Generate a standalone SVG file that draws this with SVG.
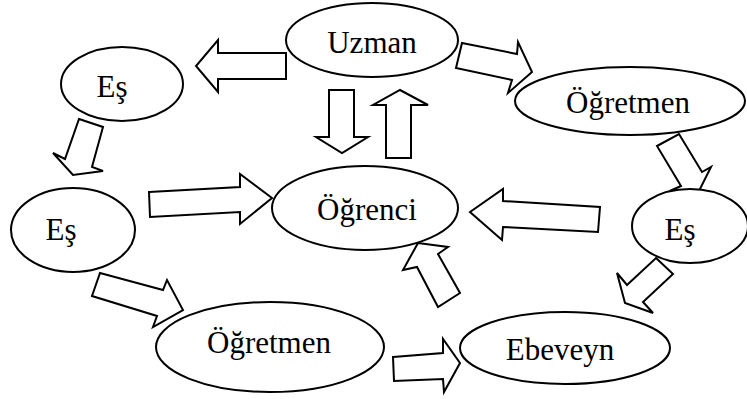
<svg xmlns="http://www.w3.org/2000/svg" width="747" height="399" viewBox="0 0 747 399">
<style>
.n ellipse{fill:#fff;stroke:#000;stroke-width:2}
.n text{font-family:'Liberation Serif','Times New Roman',serif;font-size:31px;fill:#000;text-anchor:middle}
#connectors polygon{fill:#fff;stroke:#000;stroke-width:2;stroke-linejoin:miter}
</style>
<rect width="747" height="399" fill="#fff"/>
<g id="connectors">
<polygon points="286,53 218,53 218,40 196,66 218,92 218,79 286,79"/>
<polygon points="329,90 354,90 354,137 368,137 342,153 316,137 329,137"/>
<polygon points="400,90 428,105 411,105 411,158 386,158 386,105 373,105"/>
<polygon points="462,43 517,54 518,42 532,72 508,93 512,80 456,68"/>
<polygon points="149,192 240,187 240,174 272,198 240,224 240,212 150,217"/>
<polygon points="470,212 503,189 503,201 600,207 598,232 503,227 502,240"/>
<polygon points="79,119 103,127 92,167 103,171 73,175 53,153 65,159"/>
<polygon points="657,146 679,134 702,172 711,167 698,193 672,190 681,186"/>
<polygon points="656,258 673,274 643,302 653,313 625,303 617,273 627,285"/>
<polygon points="100,273 163,290 167,280 183,310 153,327 157,316 92,296"/>
<polygon points="393,357 443,353 443,339 460,363 444,392 443,379 394,381"/>
<polygon points="418,243 448,247 438,254 460,293 438,307 417,267 403,270"/>
</g>
<g id="uzman" class="n"><ellipse cx="372" cy="40" rx="86" ry="37"/><text x="372" y="53">Uzman</text></g>
<g id="es1" class="n"><ellipse cx="122" cy="84" rx="61" ry="37"/><text x="112" y="97">Eş</text></g>
<g id="ogretmen1" class="n"><ellipse cx="630" cy="101" rx="115" ry="34"/><text x="628" y="113">Öğretmen</text></g>
<g id="es2" class="n"><ellipse cx="73" cy="230" rx="62" ry="42"/><text x="61" y="240">Eş</text></g>
<g id="ogrenci" class="n"><ellipse cx="365" cy="208" rx="93" ry="42"/><text x="367" y="220">Öğrenci</text></g>
<g id="es3" class="n"><ellipse cx="690" cy="226" rx="58" ry="37"/><text x="680" y="240">Eş</text></g>
<g id="ogretmen2" class="n"><ellipse cx="270" cy="347" rx="114" ry="45"/><text x="269" y="353">Öğretmen</text></g>
<g id="ebeveyn" class="n"><ellipse cx="565" cy="348" rx="105" ry="36"/><text x="560" y="360">Ebeveyn</text></g>
</svg>
